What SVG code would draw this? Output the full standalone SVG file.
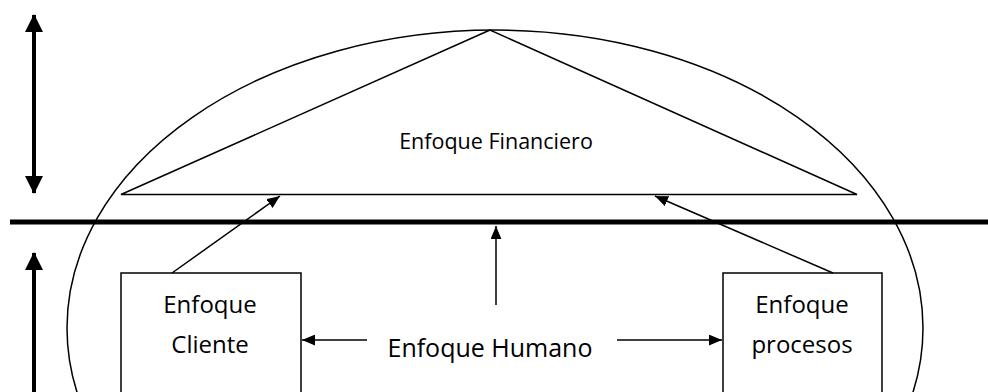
<svg xmlns="http://www.w3.org/2000/svg" width="988" height="392" viewBox="0 0 988 392">
  <style>
    .thin { fill: none; stroke: #000; stroke-width: 1.5; }
    .box { fill: #fff; stroke: #000; stroke-width: 1.5; }
    .lbl { font-family: "Open Sans", "Liberation Sans", sans-serif; font-size: 24px; fill: #000; text-anchor: middle; }
    .lbl-top { font-size: 21.5px; }
    .lbl-mid { font-size: 25px; }
  </style>
  <defs>
    <marker id="tip" viewBox="0 0 12 10" refX="12" refY="5" markerWidth="13" markerHeight="11" markerUnits="userSpaceOnUse" orient="auto">
      <path d="M0,0 L12,5 L0,10 Z" fill="#000"/>
    </marker>
    <marker id="bigtip" viewBox="0 0 18 18" refX="17" refY="9" markerWidth="18" markerHeight="18" markerUnits="userSpaceOnUse" orient="auto-start-reverse">
      <path d="M0,0 L18,9 L0,18 Z" fill="#000"/>
    </marker>
  </defs>

  <rect width="988" height="392" fill="#fff"/>

  <!-- outer ellipse -->
  <ellipse cx="495" cy="328" rx="428" ry="298" class="thin"/>

  <g id="financiero">
    <polygon points="490,30 121,194.5 857,194.5" class="box"/>
    <text x="496" y="149" class="lbl lbl-top">Enfoque Financiero</text>
  </g>

  <!-- dividing line -->
  <line x1="10" y1="222" x2="988" y2="222" stroke="#000" stroke-width="5"/>

  <g id="cliente">
    <rect x="121" y="273" width="180" height="140" class="box"/>
    <text x="210" y="313" class="lbl">Enfoque</text>
    <text x="210" y="353" class="lbl">Cliente</text>
  </g>

  <g id="procesos">
    <rect x="723" y="273" width="159" height="140" class="box"/>
    <text x="802" y="313" class="lbl">Enfoque</text>
    <text x="802" y="353" class="lbl">procesos</text>
  </g>

  <g id="humano">
    <text x="490" y="357" class="lbl lbl-mid">Enfoque Humano</text>
  </g>

  <g id="connectors">
    <line x1="34" y1="15" x2="34" y2="193" stroke="#000" stroke-width="4" marker-start="url(#bigtip)" marker-end="url(#bigtip)"/>
    <line x1="34" y1="392" x2="34" y2="253" stroke="#000" stroke-width="4" marker-end="url(#bigtip)"/>
    <line x1="172" y1="273" x2="280" y2="196" class="thin" marker-end="url(#tip)"/>
    <line x1="833" y1="273" x2="655" y2="196" class="thin" marker-end="url(#tip)"/>
    <line x1="496" y1="305" x2="496" y2="226" class="thin" marker-end="url(#tip)"/>
    <line x1="367" y1="340" x2="302" y2="340" class="thin" marker-end="url(#tip)"/>
    <line x1="617" y1="340" x2="722" y2="340" class="thin" marker-end="url(#tip)"/>
  </g>
</svg>
